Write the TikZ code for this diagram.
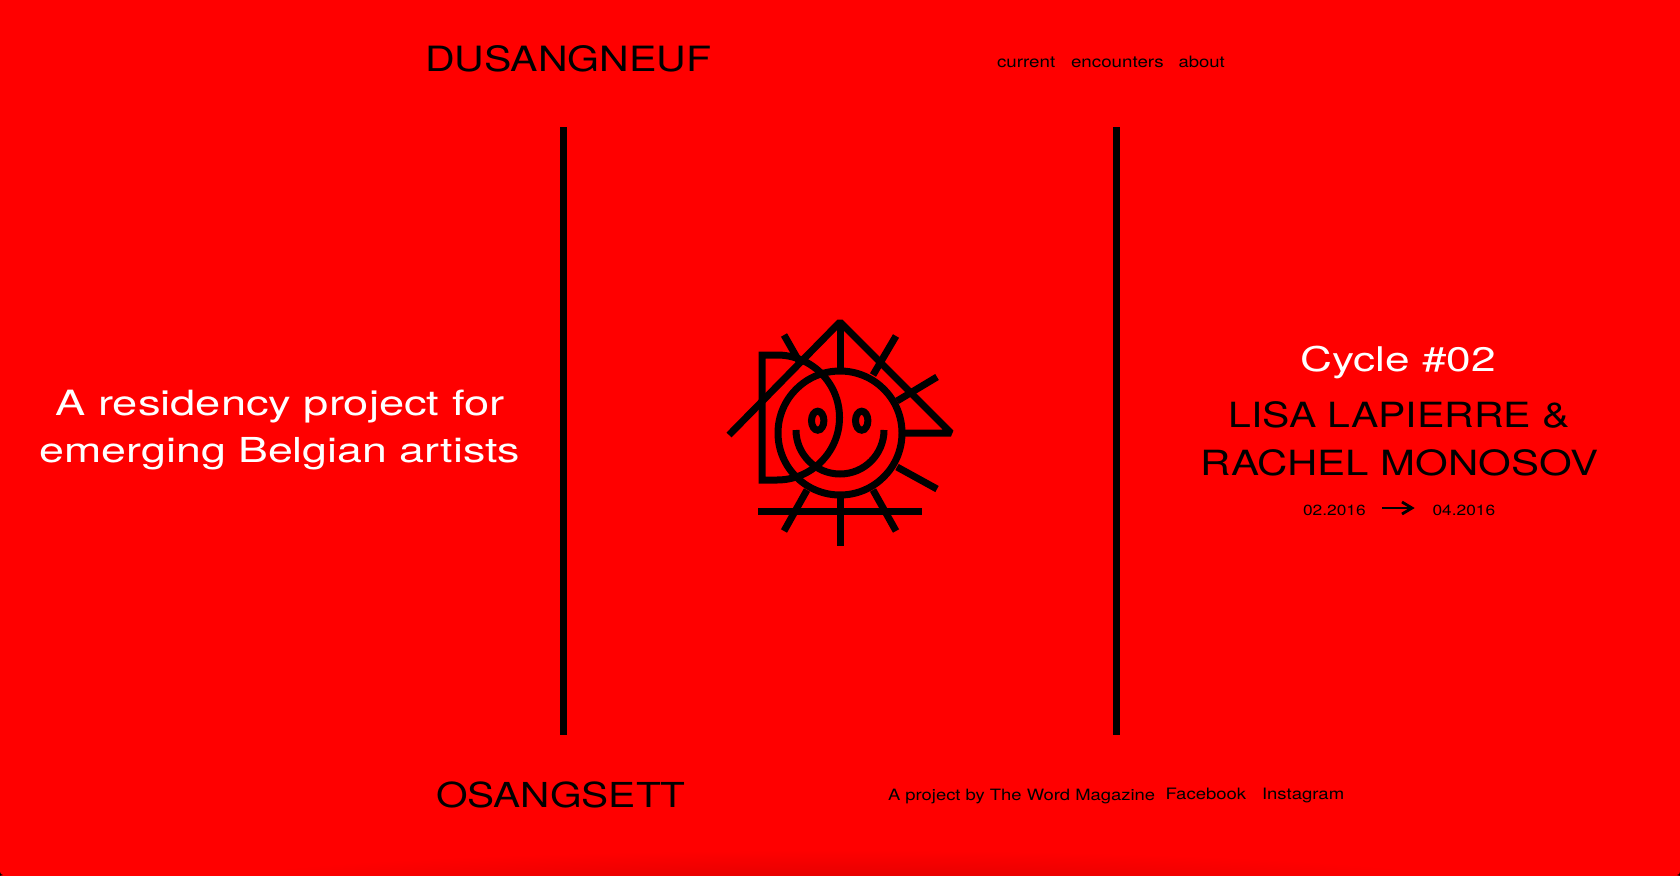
\documentclass[tikz,border=0pt]{standalone}
\usepackage{fontspec}
\setmainfont[FakeStretch=1.18]{TeX Gyre Heros}
\newfontfamily\widefont[FakeStretch=1.3]{TeX Gyre Heros}
\newfontfamily\namefont[FakeStretch=1.21]{TeX Gyre Heros}
\definecolor{bgred}{RGB}{255,0,0}
\definecolor{darkred}{RGB}{222,0,0}
\tikzset{
  txt/.style={anchor=base west,inner sep=0pt,outer sep=0pt,text=black},
  ctr/.style={anchor=base,inner sep=0pt,outer sep=0pt},
  logo/.style={draw=black,line width=7pt},
  rule/.style={draw=black,line width=6.8pt},
  arrowline/.style={draw=black,line width=2.8pt},
}
\begin{document}
\begin{tikzpicture}[x=1pt,y=-1pt]
\useasboundingbox (0,0) rectangle (1680,875);
\begin{scope}
\clip (-3,-3) rectangle (1683,878);
\fill[bgred] (-3,-3) rectangle (1683,878);
\shade[inner color=darkred,outer color=bgred] (840,886) ellipse[x radius=640,y radius=36];
\end{scope}
\fill[black] (-1,876) -- (-1,872) -- (0,872) arc[start angle=180,end angle=270,radius=3,y radius=-3] -- cycle;
\fill[black] (1681,876) -- (1681,872) -- (1680,872) arc[start angle=0,end angle=-90,radius=3,y radius=-3] -- cycle;
% rules
\coordinate (l1) at (563.5,127); \coordinate (l2) at (563.5,735);
\coordinate (r1) at (1116.5,127); \coordinate (r2) at (1116.5,735);
\draw[rule] (l1) -- (l2);
\draw[rule] (r1) -- (r2);
% header
\node[txt,font=\fontsize{34.8}{36}\selectfont] (brand) at (425,71) {DUSANGNEUF};
\node[txt,font=\fontsize{15.9}{18}\selectfont] (nav1) at (997,67.5) {current};
\node[txt,font=\fontsize{15.9}{18}\selectfont] (nav2) at (1071,67.5) {encounters};
\node[txt,font=\fontsize{15.7}{18}\selectfont] (nav3) at (1178.5,67.5) {about};
% footer
\node[txt,font=\fontsize{34.4}{36}\selectfont] (brand2) at (436,807.5) {OSANGSETT};
\node[txt,font=\fontsize{15.6}{18}\selectfont] (by) at (888,800) {A project by The Word Magazine};
\node[txt,font=\fontsize{15.7}{18}\selectfont] (fb) at (1165.5,799) {Facebook};
\node[txt,font=\fontsize{15.7}{18}\selectfont] (ig) at (1262,799) {Instagram};
% left
\node[ctr,text=white,font=\widefont\fontsize{34.8}{38}\selectfont] (t1) at (280,415) {A residency project for};
\node[ctr,text=white,font=\widefont\fontsize{34.4}{38}\selectfont] (t2) at (280,462) {emerging Belgian artists};
% right
\node[ctr,text=white,font=\widefont\fontsize{34}{38}\selectfont] (cyc) at (1398,371) {Cycle \#02};
\node[ctr,font=\fontsize{34.7}{36}\selectfont] (n1) at (1399,427.5) {LISA LAPIERRE \&};
\node[ctr,font=\namefont\fontsize{34.7}{36}\selectfont] (n2) at (1399.5,475.5) {RACHEL MONOSOV};
\node[txt,font=\fontsize{14.7}{16}\selectfont] (d1) at (1303,515) {02.2016};
\node[txt,font=\fontsize{14.7}{16}\selectfont] (d2) at (1432.5,515) {04.2016};
\coordinate (a1) at (1382,508); \coordinate (a2) at (1412,508);
\coordinate (a3) at (1402,502); \coordinate (a4) at (1402,514);
\draw[arrowline] (a1) -- (a2);
\draw[arrowline] (a3) -- (a2) -- (a4);
% logo
\draw[logo] (840,433) circle (62);
\draw[logo,line join=bevel] (729,435) -- (840,322) -- (951,433) -- (905,433);
\draw[logo] (840,322) -- (840,371);
\draw[logo] (840,495) -- (840,546);
\draw[logo] (758,511) -- (922,511);
\draw[logo] (784,335) -- (800,363);
\draw[logo] (896,336) -- (873,375);
\draw[logo] (937,377) -- (897,401);
\draw[logo] (937,489) -- (897,467);
\draw[logo] (896,531) -- (873,490);
\draw[logo] (784,531) -- (807,490);
\draw[logo,line join=miter] (777,355) -- (762,355) -- (762,480) -- (777,480) arc[start angle=-90,end angle=90,radius=62.5,y radius=-62.5];
\draw[logo] (796,430) arc[start angle=180,end angle=360,radius=44,y radius=-44];
\draw[logo] (817.7,420.7) ellipse[x radius=6.2,y radius=9.5];
\draw[logo] (861.7,420.7) ellipse[x radius=6.2,y radius=9.5];
\end{tikzpicture}
\end{document}
